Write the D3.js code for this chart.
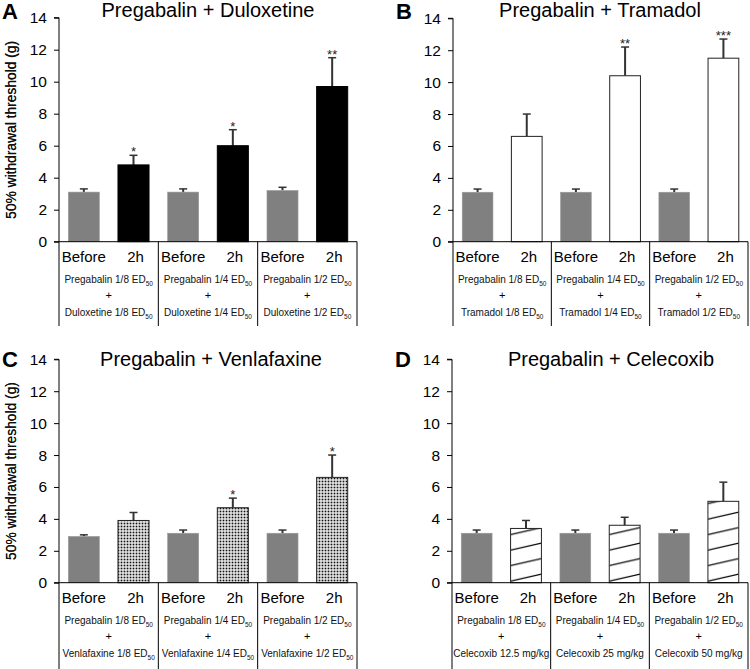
<!DOCTYPE html>
<html>
<head>
<meta charset="utf-8">
<script src="https://cdn.jsdelivr.net/npm/d3@7"></script>
<style>
  body { margin: 0; background: #fff; }
  svg { display: block; font-family: Arial, "Liberation Sans", sans-serif; }
</style>
</head>
<body>
<svg id="chart" width="750" height="669"></svg>
<script>
// Bar categories (same for every panel)
const categories = ['Before', '2h', 'Before', '2h', 'Before', '2h'];

// Panel A: Pregabalin + Duloxetine
const meanA = [3.1, 4.8, 3.1, 6.0, 3.2, 9.7];
const semA = [0.2, 0.6, 0.2, 1.0, 0.2, 1.8];
const starsA = ['', '*', '', '*', '', '**'];

// Panel B: Pregabalin + Tramadol
const meanB = [3.1, 6.6, 3.1, 10.4, 3.1, 11.5];
const semB = [0.2, 1.4, 0.2, 1.8, 0.2, 1.2];
const starsB = ['', '', '', '**', '', '***'];

// Panel C: Pregabalin + Venlafaxine
const meanC = [2.9, 3.9, 3.1, 4.7, 3.1, 6.6];
const semC = [0.1, 0.5, 0.2, 0.6, 0.2, 1.4];
const starsC = ['', '', '', '*', '', '*'];

// Panel D: Pregabalin + Celecoxib
const meanD = [3.1, 3.4, 3.1, 3.6, 3.1, 5.1];
const semD = [0.2, 0.5, 0.2, 0.5, 0.2, 1.2];
const starsD = ['', '', '', '', '', ''];

// Dose labels under each pair: [text, subscript]
const pregabalinDoses = [['Pregabalin 1/8 ED', '50'], ['Pregabalin 1/4 ED', '50'], ['Pregabalin 1/2 ED', '50']];
const duloxetineDoses = [['Duloxetine 1/8 ED', '50'], ['Duloxetine 1/4 ED', '50'], ['Duloxetine 1/2 ED', '50']];
const tramadolDoses = [['Tramadol 1/8 ED', '50'], ['Tramadol 1/4 ED', '50'], ['Tramadol 1/2 ED', '50']];
const venlafaxineDoses = [['Venlafaxine 1/8 ED', '50'], ['Venlafaxine 1/4 ED', '50'], ['Venlafaxine 1/2 ED', '50']];
const celecoxibDoses = [['Celecoxib 12.5 mg/kg', ''], ['Celecoxib 25 mg/kg', ''], ['Celecoxib 50 mg/kg', '']];

const yTicks = [0, 2, 4, 6, 8, 10, 12, 14];

const panels = [
    { letter: 'A', title: 'Pregabalin + Duloxetine', mean: meanA, sem: semA, stars: starsA, second: duloxetineDoses,
      fill: 'solid', left: 59, right: 357, top: 17.7, bottom: 241.7, tableEnd: 326, titleX: 208, titleY: 17, letterY: 19 },
    { letter: 'B', title: 'Pregabalin + Tramadol', mean: meanB, sem: semB, stars: starsB, second: tramadolDoses,
      fill: 'white', left: 453, right: 748, top: 18.3, bottom: 241.7, tableEnd: 326, titleX: 600, titleY: 17, letterY: 19 },
    { letter: 'C', title: 'Pregabalin + Venlafaxine', mean: meanC, sem: semC, stars: starsC, second: venlafaxineDoses,
      fill: 'dots', left: 59, right: 357, top: 359.3, bottom: 582.7, tableEnd: 669, titleX: 211, titleY: 366, letterY: 367 },
    { letter: 'D', title: 'Pregabalin + Celecoxib', mean: meanD, sem: semD, stars: starsD, second: celecoxibDoses,
      fill: 'hatch', left: 452, right: 748, top: 359.3, bottom: 582.7, tableEnd: 669, titleX: 611, titleY: 366, letterY: 367 }
];

const svg = d3.select('#chart');
const defs = svg.append('defs');

// Dotted fill for panel C
const dots = defs.append('pattern')
    .attr('id', 'dots')
    .attr('patternUnits', 'userSpaceOnUse')
    .attr('width', 3)
    .attr('height', 3);
dots.append('rect').attr('width', 3).attr('height', 3).attr('fill', '#fff');
dots.append('rect').attr('x', 0.6).attr('y', 0.6).attr('width', 1.8).attr('height', 1.8).attr('fill', '#111');

function drawPanel(p, pi) {
    const x = d3.scaleBand()
        .domain(d3.range(categories.length))
        .range([p.left, p.right])
        .paddingInner(0.375)
        .paddingOuter(0.1875);

    const y = d3.scaleLinear()
        .domain([0, 14])
        .range([p.bottom, p.top]);

    const g = svg.append('g').attr('class', 'panel-' + p.letter);

    // Hatch patterns for panel D, one per bar so the lines start at the bar edge
    if (p.fill === 'hatch') {
        categories.forEach((c, i) => {
            if (i % 2 === 0) return;
            const pat = defs.append('pattern')
                .attr('id', `hatch-${pi}-${i}`)
                .attr('patternUnits', 'userSpaceOnUse')
                .attr('x', x(i))
                .attr('y', y(0))
                .attr('width', x.bandwidth())
                .attr('height', 15.5);
            pat.append('rect').attr('width', x.bandwidth()).attr('height', 15.5).attr('fill', '#fff');
            pat.append('line')
                .attr('x1', 0).attr('y1', 14)
                .attr('x2', x.bandwidth()).attr('y2', 7)
                .attr('stroke', '#000')
                .attr('stroke-width', 1.2);
        });
    }

    const fillFor = i => {
        if (i % 2 === 0) return '#808080';
        if (p.fill === 'solid') return '#000';
        if (p.fill === 'white') return '#fff';
        if (p.fill === 'dots') return 'url(#dots)';
        return `url(#hatch-${pi}-${i})`;
    };

    // Error bars (upper only)
    const err = g.selectAll('.err')
        .data(p.mean)
        .enter()
        .append('g')
        .attr('class', 'err');
    err.append('line')
        .attr('x1', (d, i) => x(i) + x.bandwidth() / 2)
        .attr('x2', (d, i) => x(i) + x.bandwidth() / 2)
        .attr('y1', d => y(d))
        .attr('y2', (d, i) => y(d + p.sem[i]))
        .attr('stroke', '#333')
        .attr('stroke-width', 2);
    err.append('line')
        .attr('x1', (d, i) => x(i) + x.bandwidth() / 2 - 4)
        .attr('x2', (d, i) => x(i) + x.bandwidth() / 2 + 4)
        .attr('y1', (d, i) => y(d + p.sem[i]))
        .attr('y2', (d, i) => y(d + p.sem[i]))
        .attr('stroke', '#333')
        .attr('stroke-width', 1.5);

    // Bars
    g.selectAll('.bar')
        .data(p.mean)
        .enter()
        .append('rect')
        .attr('class', 'bar')
        .attr('x', (d, i) => x(i))
        .attr('y', d => y(d))
        .attr('width', x.bandwidth())
        .attr('height', d => y(0) - y(d))
        .attr('fill', (d, i) => fillFor(i))
        .attr('stroke', (d, i) => i % 2 === 0 ? '#9a9a9a' : (p.fill === 'solid' ? '#000' : '#222'))
        .attr('stroke-width', (d, i) => i % 2 === 0 ? 0.6 : 1);

    // Significance stars
    g.selectAll('.star')
        .data(p.stars)
        .enter()
        .append('text')
        .attr('class', 'star')
        .attr('x', (d, i) => x(i) + x.bandwidth() / 2)
        .attr('y', (d, i) => y(p.mean[i] + p.sem[i]) + 1)
        .attr('text-anchor', 'middle')
        .attr('font-size', '13px')
        .attr('fill', '#222')
        .text(d => d);

    // Y axis
    const yAxis = d3.axisLeft(y)
        .tickValues(yTicks)
        .tickSize(5)
        .tickPadding(7)
        .tickFormat(d3.format('d'));
    const ag = g.append('g')
        .attr('transform', `translate(${p.left},0)`)
        .call(yAxis);
    ag.select('.domain').attr('stroke', '#000').attr('d', `M-5,${y(14)}H0V${y(0)}`);
    ag.selectAll('.tick line').attr('stroke', '#000');
    ag.selectAll('.tick text')
        .attr('font-size', '15.5px')
        .attr('font-family', 'Arial, "Liberation Sans", sans-serif')
        .attr('fill', '#000');

    // Baseline (x axis) across the plot
    g.append('line')
        .attr('x1', p.left - 5).attr('x2', p.right)
        .attr('y1', y(0)).attr('y2', y(0))
        .attr('stroke', '#000');

    // Table separators below the axis
    const seps = [0, 2, 4].map(i => x(i) - x.step() * x.paddingOuter()).concat([p.right]);
    g.selectAll('.sep')
        .data(seps)
        .enter()
        .append('line')
        .attr('class', 'sep')
        .attr('x1', d => d).attr('x2', d => d)
        .attr('y1', y(0)).attr('y2', p.tableEnd)
        .attr('stroke', '#000');

    // Before / 2h labels
    g.selectAll('.cat')
        .data(categories)
        .enter()
        .append('text')
        .attr('class', 'cat')
        .attr('x', (d, i) => x(i) + x.bandwidth() / 2 + (i % 2 === 0 ? 0 : 2))
        .attr('y', y(0) + 20)
        .attr('text-anchor', 'middle')
        .attr('font-size', '15px')
        .text(d => d);

    // Dose labels
    const groupCenter = k => (x(2 * k) + x(2 * k + 1) + x.bandwidth()) / 2;
    const doseLine = (rows, dy) => {
        const t = g.selectAll(null)
            .data(rows)
            .enter()
            .append('text')
            .attr('x', (d, k) => groupCenter(k))
            .attr('y', y(0) + dy)
            .attr('text-anchor', 'middle')
            .attr('font-size', '10px')
            .attr('fill', '#111');
        t.append('tspan').text(d => d[0]);
        t.append('tspan')
            .attr('font-size', '6.5px')
            .attr('dy', 2.5)
            .text(d => d[1]);
    };
    doseLine(pregabalinDoses, 41.5);
    g.selectAll('.plus')
        .data([0, 1, 2])
        .enter()
        .append('text')
        .attr('class', 'plus')
        .attr('x', k => groupCenter(k))
        .attr('y', y(0) + 57)
        .attr('text-anchor', 'middle')
        .attr('font-size', '11px')
        .text('+');
    doseLine(p.second, 74.5);

    // Y axis title
    g.append('text')
        .attr('transform', `translate(16,${(p.top + p.bottom) / 2}) rotate(-90)`)
        .attr('text-anchor', 'middle')
        .attr('font-size', '13.8px')
        .attr('fill', '#111')
        .text('50% withdrawal threshold (g)');

    // Panel title and letter
    g.append('text')
        .attr('x', p.titleX)
        .attr('y', p.titleY)
        .attr('text-anchor', 'middle')
        .attr('font-size', '20px')
        .text(p.title);
    g.append('text')
        .attr('x', p.left - 57)
        .attr('y', p.letterY)
        .attr('font-size', '22px')
        .attr('font-weight', 'bold')
        .text(p.letter);
}

panels.forEach(drawPanel);
</script>
</body>
</html>
